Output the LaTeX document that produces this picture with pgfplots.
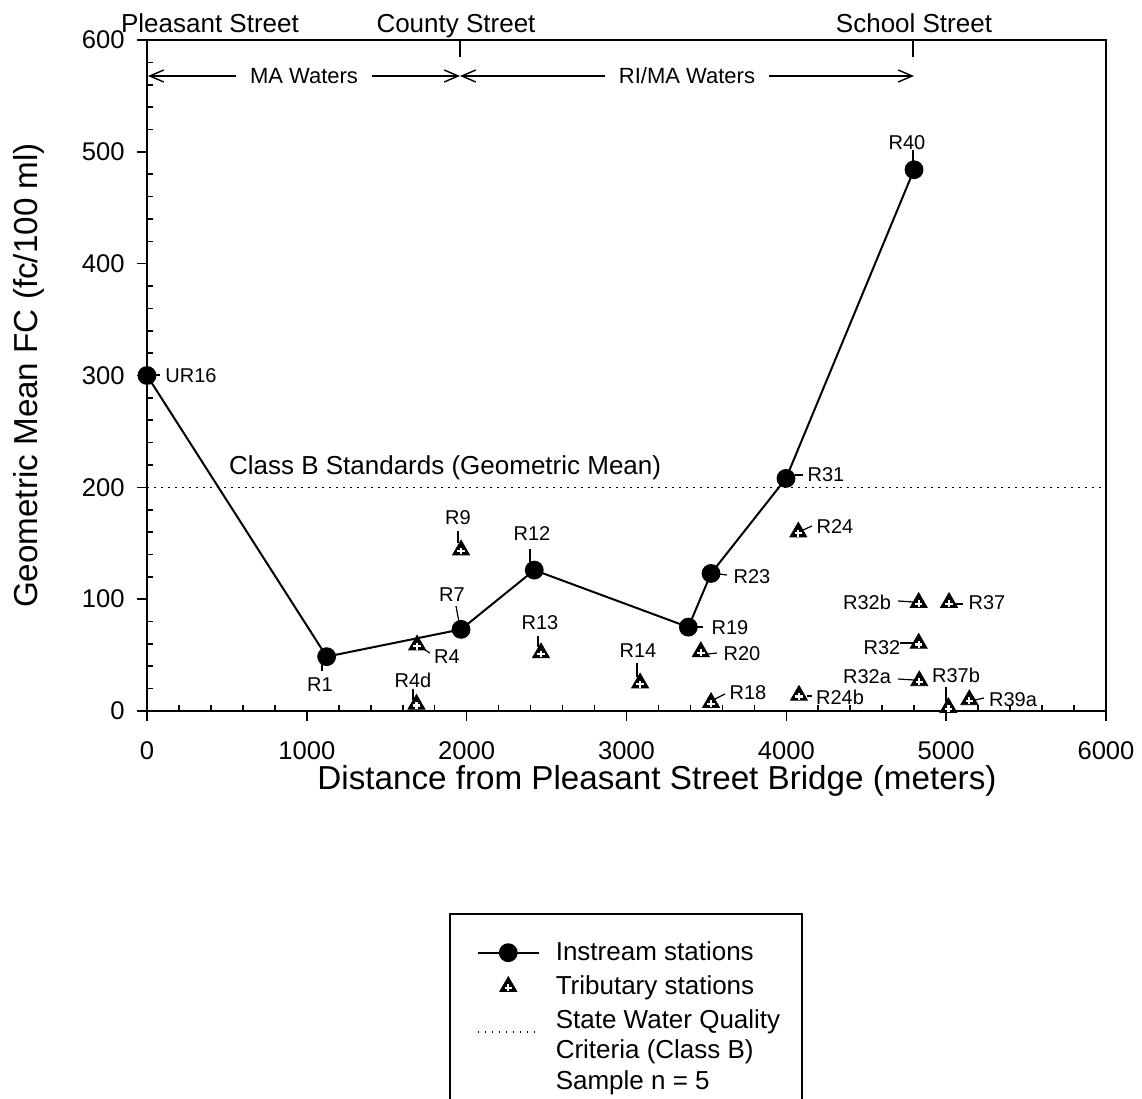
\documentclass[border=0pt]{standalone}
\usepackage{fontspec}
\setmainfont{Liberation Sans}
\usepackage{pgfplots}
\pgfplotsset{compat=1.18}
\usepackage{pgfplotstable}
\usetikzlibrary{arrows.meta}

\pgfdeclareplotmark{triplus}{%
  \pgfuseplotmark{triangle*}%
  \pgfscope
  \pgfsetstrokecolor{white}%
  \pgfsetlinewidth{1.1pt}%
  \pgfpathmoveto{\pgfqpoint{-0.38\pgfplotmarksize}{-0.12\pgfplotmarksize}}%
  \pgfpathlineto{\pgfqpoint{0.38\pgfplotmarksize}{-0.12\pgfplotmarksize}}%
  \pgfpathmoveto{\pgfqpoint{0pt}{-0.46\pgfplotmarksize}}%
  \pgfpathlineto{\pgfqpoint{0pt}{0.24\pgfplotmarksize}}%
  \pgfusepathqstroke
  \endpgfscope
}

\pgfplotsset{
  mlegend/.style={legend image code/.code={\path (-2.5pt,0pt); \draw[mark repeat=2, mark phase=2, ##1] plot coordinates {(0pt,0pt) (15.25pt,0pt) (30.5pt,0pt)};}},
  dlegend/.style={legend image code/.code={\path (-2.5pt,0pt); \draw[##1] (0pt,9.5pt) -- (30.5pt,9.5pt);}},
}

\pgfplotstableread{
x y
0 300
1124 48.6
1965 73
2423 126
3387 75
3529 123
3998 208
4799 484
}\instream

\pgfplotstableread{
x y
1690 59
1686 6
1965 144
2465 52
3085 25
3465 53
3529 7.5
4075 160
4079 14
4828 97
5018 97
4828 60.5
4832 27
5014 3
5145 10
}\tributary

\begin{document}
\begin{tikzpicture}
\begin{axis}[
  at={(0,0)}, anchor=south west,
  scale only axis, width=479.5pt, height=335.5pt,
  xmin=0, xmax=6000, ymin=0, ymax=600,
  xtick={0,1000,...,6000}, ytick={0,100,...,600},
  minor x tick num=4, minor y tick num=4,
  tick pos=left,
  tick align=inside,
  major tick length=-5pt,
  minor tick length=3pt,
  axis line style={line width=0.9pt},
  every tick/.style={black, line width=0.8pt},
  ticklabel style={font=\fontsize{12.8}{15}\selectfont},
  /pgf/number format/assume math mode=true,
  /pgf/number format/1000 sep={},
  scaled ticks=false,
  xticklabel style={yshift=-12pt},
  yticklabel style={xshift=-7.7pt},
  xlabel={Distance from Pleasant Street Bridge (meters)},
  ylabel={Geometric Mean FC (fc/100 ml)},
  label style={font=\fontsize{16.6}{20}\selectfont},
  xlabel style={at={(axis description cs:0.5318,-0.1043)}, anchor=center},
  ylabel style={at={(axis description cs:-0.123,0.5)}, anchor=center},
  clip=false,
  legend style={at={(axis description cs:0.3149,-0.301)}, anchor=north west,
    draw=black, line width=0.8pt, font=\fontsize{13}{15.3}\selectfont,
    inner xsep=11pt, inner ysep=14pt, row sep=6pt, column sep=8pt,
    nodes={inner sep=0pt}, cells={align=left}},
  legend cell align=left,
]
\addplot[black, line width=1pt, mark=*, mark size=4.2pt, mlegend]
  table {\instream};
\addlegendentry{Instream stations}
\addplot[only marks, mark=triplus, mark size=4.9pt, mark options={fill=black, draw=black, line width=0.4pt}, mlegend]
  table {\tributary};
\addlegendentry{Tributary stations}
\addplot[black, line width=0.8pt, dash pattern=on 0.8pt off 2.7pt, dlegend]
  coordinates {(0,200) (6000,200)};
\addlegendentry{State Water Quality\\Criteria (Class B)\\Sample n = 5}
\end{axis}
\begin{scope}[x=0.5pt, y=-0.5pt, shift={(-147,-711)}]
  % top annotations
  \begin{scope}[font=\fontsize{13}{15}\selectfont]
    \node[anchor=base] at (210,33) {Pleasant Street};
    \node[anchor=base] at (456,33) {County Street};
    \node[anchor=base] at (914,33) {School Street};
    \node[anchor=base west] at (222,474) {Class B Standards (Geometric Mean)};
  \end{scope}
  \draw[line width=0.7pt] (460,40) -- (460,57);
  \draw[line width=0.7pt] (913,40) -- (913,57);
  \draw[line width=0.7pt, {Straight Barb[length=7pt,width=6pt]}-{Straight Barb[length=7pt,width=6pt]}]
    (148,76) -- node[fill=white, inner xsep=7pt, inner ysep=1pt, font=\fontsize{11}{13}\selectfont] {MA Waters} (460,76);
  \draw[line width=0.7pt, {Straight Barb[length=7pt,width=6pt]}-{Straight Barb[length=7pt,width=6pt]}]
    (460,76) -- node[fill=white, inner xsep=7pt, inner ysep=1pt, font=\fontsize{11}{13}\selectfont] {RI/MA Waters} (914,76);
  % station labels
  \begin{scope}[font=\fontsize{10}{12}\selectfont, every node/.style={inner sep=0pt}]
    \node at (191,376) {UR16};
    \node at (320,685) {R1};
    \node at (447,657) {R4};
    \node at (413,680) {R4d};
    \node at (452,595) {R7};
    \node at (458,518) {R9};
    \node at (532,534) {R12};
    \node at (540,623) {R13};
    \node at (638,651) {R14};
    \node at (730,628) {R19};
    \node at (742,654) {R20};
    \node at (752,577) {R23};
    \node at (748,693) {R18};
    \node at (826,475) {R31};
    \node at (907,143) {R40};
    \node at (835,527) {R24};
    \node at (840,697) {R24b};
    \node at (867,602) {R32b};
    \node at (987,603) {R37};
    \node at (882,648) {R32};
    \node at (867,677) {R32a};
    \node at (956,675) {R37b};
    \node at (1013,700) {R39a};
  \end{scope}
  \begin{scope}[line width=0.6pt]
    \draw (153,375) -- (160,375);
    \draw (322,664) -- (322,671);
    \draw (422,648) -- (430,653);
    \draw (413,689) -- (413,700);
    \draw (456,606) -- (459,622);
    \draw (458,531) -- (458,543);
    \draw (530,549) -- (530,562);
    \draw (538,636) -- (538,647);
    \draw (637,663) -- (637,677);
    \draw (697,627) -- (703,627);
    \draw (708,654) -- (717,653);
    \draw (719,574) -- (727,575);
    \draw (713,700) -- (725,694);
    \draw (795,475) -- (803,475);
    \draw (913,150) -- (913,163);
    \draw (803,530) -- (812,526);
    \draw (807,696) -- (812,696);
    \draw (898,601) -- (913,602);
    \draw (955,604) -- (963,604);
    \draw (900,643) -- (913,643);
    \draw (898,679) -- (914,680);
    \draw (946,687) -- (946,702);
    \draw (975,700) -- (984,698);
  \end{scope}
  \pgfresetboundingbox
  \useasboundingbox (0,0) rectangle (1142,1099);
\end{scope}
\end{tikzpicture}
\end{document}
